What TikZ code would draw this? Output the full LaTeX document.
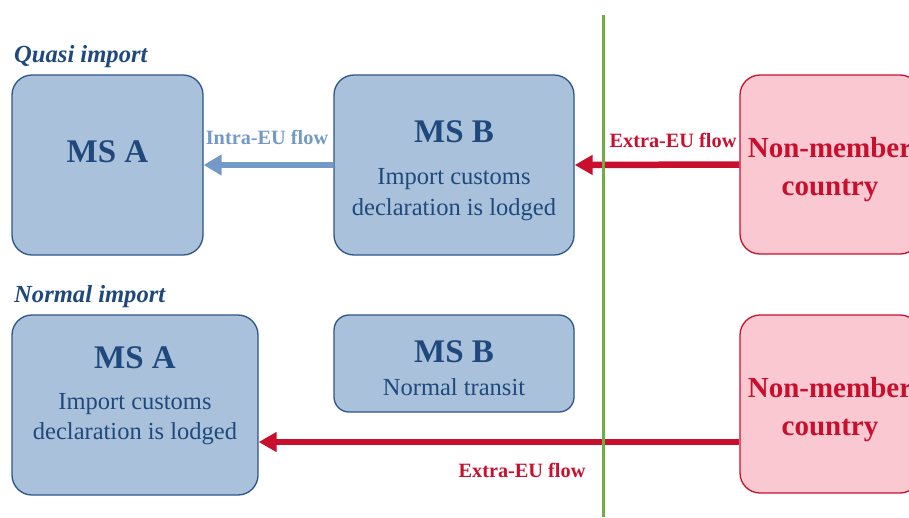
\documentclass[tikz,border=0pt]{standalone}
\usepackage{fontspec}
\setmainfont{Liberation Serif}
\usetikzlibrary{arrows.meta}
\definecolor{boxfill}{HTML}{A9C1DA}
\definecolor{boxline}{HTML}{2E548A}
\definecolor{txtblue}{HTML}{1F497D}
\definecolor{intrablue}{HTML}{7399C6}
\definecolor{eured}{HTML}{C8102E}
\definecolor{pinkfill}{HTML}{F9C8D0}
\definecolor{eugreen}{HTML}{70AD47}
\tikzset{
  msbox/.style={draw=boxline, fill=boxfill, line width=1.3pt, rounded corners=20pt, inner sep=0pt},
  nmbox/.style={draw=eured, fill=pinkfill, line width=1.3pt, rounded corners=20pt, inner sep=0pt},
  bigtxt/.style={anchor=base, inner sep=0pt, text=txtblue, font=\fontsize{33}{33}\selectfont\bfseries},
  smalltxt/.style={anchor=base, inner sep=0pt, text=txtblue, font=\fontsize{24.5}{24.5}\selectfont},
  nmtxt/.style={anchor=base, inner sep=0pt, text=eured, font=\fontsize{29}{29}\selectfont\bfseries},
  headtxt/.style={anchor=base west, inner sep=0pt, text=txtblue, font=\fontsize{24.6}{24.6}\selectfont\bfseries\itshape},
  flowtxt/.style={anchor=base, inner sep=0pt, font=\fontsize{20.3}{20.3}\selectfont\bfseries},
  redarrow/.style={draw=eured, line width=6.5pt, -{Triangle[length=18pt,width=19pt]}},
  bluearrow/.style={draw=intrablue, line width=6pt, -{Triangle[length=18pt,width=20pt]}}
}
\begin{document}
\begin{tikzpicture}[x=1pt,y=-1pt]
\useasboundingbox (0,0) rectangle (909,517);
\clip (0,0) rectangle (909,517);
% green border line
\coordinate (gtop) at (603,15);
\coordinate (gbot) at (603,517);
% headings
\node[headtxt] (hq) at (14,62) {Quasi import};
\node[headtxt] (hn) at (14,302) {Normal import};
% top row boxes
\node[msbox, minimum width=191pt, minimum height=180pt] (msa1) at (107.5,165) {};
\node[msbox, minimum width=240pt, minimum height=180pt] (msb1) at (454,165) {};
\node[nmbox, minimum width=180pt, minimum height=179pt] (nm1) at (830,164.5) {};
% bottom row boxes
\node[msbox, minimum width=246pt, minimum height=180pt] (msa2) at (135,405) {};
\node[msbox, rounded corners=15pt, minimum width=240pt, minimum height=97pt] (msb2) at (454,363.5) {};
\node[nmbox, minimum width=180pt, minimum height=178pt] (nm2) at (830,404) {};
% texts top row
\node[bigtxt] (ta1) at (107.5,162) {MS A};
\node[bigtxt] (tb1) at (454,142) {MS B};
\node[smalltxt] (tb1a) at (454,184) {Import customs};
\node[smalltxt] (tb1b) at (454,215) {declaration is lodged};
\node[nmtxt] (tn1a) at (830,157) {Non-member};
\node[nmtxt] (tn1b) at (830,195) {country};
% texts bottom row
\node[bigtxt] (ta2) at (135,368) {MS A};
\node[smalltxt] (ta2a) at (135,409) {Import customs};
\node[smalltxt] (ta2b) at (135,439) {declaration is lodged};
\node[bigtxt] (tb2) at (454,362) {MS B};
\node[smalltxt] (tb2a) at (454,395) {Normal transit};
\node[nmtxt] (tn2a) at (830,397) {Non-member};
\node[nmtxt] (tn2b) at (830,435) {country};
% arrows
\coordinate (ylow) at (0,442);
\draw[bluearrow] (msb1.west) -- (msa1.east);
\draw[redarrow] (nm1.west) -- (msb1.east);
\draw[redarrow] (nm2.west |- ylow) -- (msa2.east |- ylow);
% green line
\draw[eugreen, line width=3pt] (gtop) -- (gbot);
% flow labels
\node[flowtxt, text=intrablue] (lintra) at (267,144) {Intra-EU flow};
\node[flowtxt, text=eured] (lext1) at (673,147) {Extra-EU flow};
\node[flowtxt, text=eured] (lext2) at (522,477) {Extra-EU flow};
\end{tikzpicture}
\end{document}
